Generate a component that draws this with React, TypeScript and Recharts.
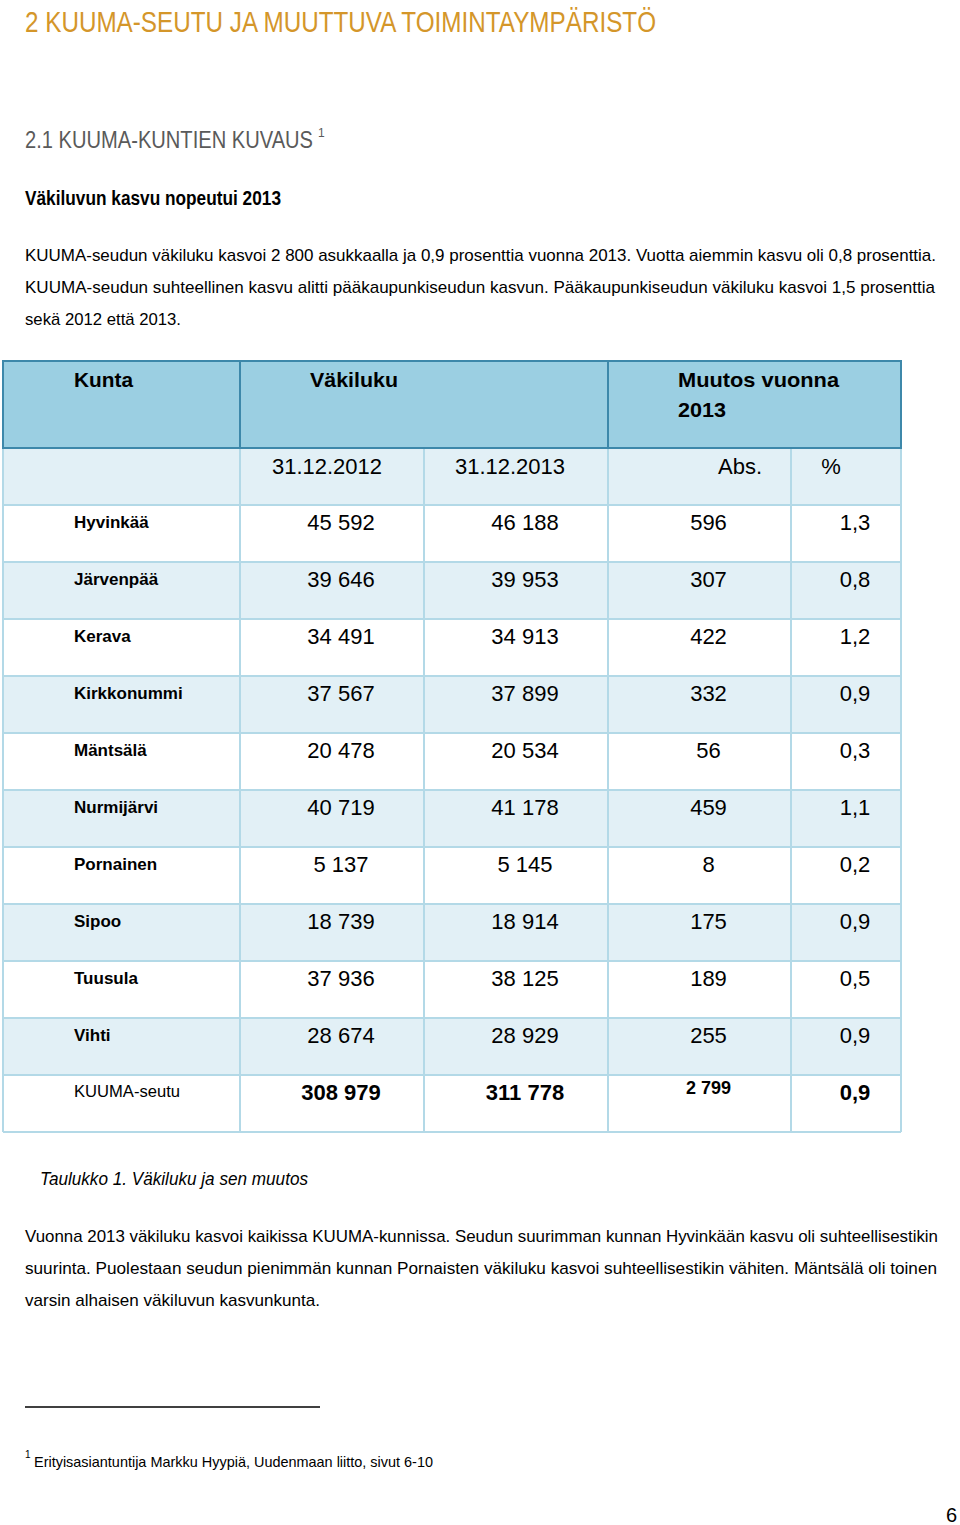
import React from "react";
import { Surface, Layer, Rectangle } from "recharts";

// table data
const kunnat = [
  "Hyvinkää",
  "Järvenpää",
  "Kerava",
  "Kirkkonummi",
  "Mäntsälä",
  "Nurmijärvi",
  "Pornainen",
  "Sipoo",
  "Tuusula",
  "Vihti",
];
const vakiluku2012 = [45592, 39646, 34491, 37567, 20478, 40719, 5137, 18739, 37936, 28674];
const vakiluku2013 = [46188, 39953, 34913, 37899, 20534, 41178, 5145, 18914, 38125, 28929];
const muutosAbs = [596, 307, 422, 332, 56, 459, 8, 175, 189, 255];
const muutosPct = [1.3, 0.8, 1.2, 0.9, 0.3, 1.1, 0.2, 0.9, 0.5, 0.9];
const yhteensa = { nimi: "KUUMA-seutu", v2012: 308979, v2013: 311778, abs: 2799, pct: 0.9 };

const W = 960;
const H = 1525;

const NARROW = "'Liberation Sans Narrow', 'Liberation Sans', Arial, sans-serif";
const ARIAL = "'Liberation Sans', Arial, sans-serif";

const COL_X = [3, 240, 424, 608, 791, 901];
const HEAD_TOP = 361;
const HEAD_BOTTOM = 448;
const SUB_BOTTOM = 505;
const ROW_H = 57;

const HEAD_BG = "#9bcfe2";
const HEAD_BORDER = "#3d88aa";
const ROW_LIGHT = "#e2f0f6";
const GRID = "#b3d9e7";

const fmt = (n: number) => String(n).replace(/\B(?=(\d{3})+(?!\d))/g, " ");
const fmtPct = (n: number) => n.toFixed(1).replace(".", ",");

type TProps = {
  x: number;
  y: number;
  len?: number;
  size: number;
  font?: string;
  weight?: string | number;
  italic?: boolean;
  fill?: string;
  anchor?: "start" | "middle" | "end";
  children: React.ReactNode;
};

function T({ x, y, len, size, font = NARROW, weight = "normal", italic, fill = "#000", anchor = "start", children }: TProps) {
  return (
    <text
      x={x}
      y={y}
      fontFamily={font}
      fontSize={size}
      fontWeight={weight}
      fontStyle={italic ? "italic" : "normal"}
      fill={fill}
      textAnchor={anchor}
      {...(len ? { textLength: len, lengthAdjust: "spacingAndGlyphs" } : {})}
    >
      {children}
    </text>
  );
}

function Taulukko() {
  const rows = kunnat.length + 1;
  const tableBottom = SUB_BOTTOM + rows * ROW_H;
  const center = (i: number) => (COL_X[i] + COL_X[i + 1]) / 2 + 9;

  return (
    <Layer>
      {/* row backgrounds */}
      <Rectangle x={COL_X[0]} y={HEAD_BOTTOM} width={COL_X[5] - COL_X[0]} height={SUB_BOTTOM - HEAD_BOTTOM} fill={ROW_LIGHT} />
      {Array.from({ length: rows }).map((_, i) => (
        <Rectangle
          key={"bg" + i}
          x={COL_X[0]}
          y={SUB_BOTTOM + i * ROW_H}
          width={COL_X[5] - COL_X[0]}
          height={ROW_H}
          fill={i % 2 === 1 ? ROW_LIGHT : "#ffffff"}
        />
      ))}
      {/* light grid */}
      {Array.from({ length: rows + 1 }).map((_, i) => (
        <line
          key={"h" + i}
          x1={COL_X[0]}
          x2={COL_X[5]}
          y1={SUB_BOTTOM + i * ROW_H}
          y2={SUB_BOTTOM + i * ROW_H}
          stroke={GRID}
          strokeWidth={2}
        />
      ))}
      {COL_X.map((x, i) => (
        <line key={"v" + i} x1={x} x2={x} y1={HEAD_BOTTOM} y2={tableBottom} stroke={GRID} strokeWidth={2} />
      ))}
      {/* header */}
      <Rectangle
        x={COL_X[0]}
        y={HEAD_TOP}
        width={COL_X[5] - COL_X[0]}
        height={HEAD_BOTTOM - HEAD_TOP}
        fill={HEAD_BG}
        stroke={HEAD_BORDER}
        strokeWidth={2}
      />
      {[COL_X[1], COL_X[3]].map((x) => (
        <line key={"hv" + x} x1={x} x2={x} y1={HEAD_TOP} y2={HEAD_BOTTOM} stroke={HEAD_BORDER} strokeWidth={2} />
      ))}
      <T x={74} y={387} size={21} font={ARIAL} weight="bold" len={59}>Kunta</T>
      <T x={310} y={387} size={21} font={ARIAL} weight="bold" len={88}>Väkiluku</T>
      <T x={678} y={387} size={21} font={ARIAL} weight="bold" len={161}>Muutos vuonna</T>
      <T x={678} y={417} size={21} font={ARIAL} weight="bold" len={48}>2013</T>

      {/* sub header */}
      <T x={327} y={474} size={22} font={ARIAL} anchor="middle">31.12.2012</T>
      <T x={510} y={474} size={22} font={ARIAL} anchor="middle">31.12.2013</T>
      <T x={740} y={474} size={22} font={ARIAL} anchor="middle">Abs.</T>
      <T x={831} y={474} size={22} font={ARIAL} anchor="middle">%</T>

      {/* data rows */}
      {kunnat.map((k, i) => {
        const top = SUB_BOTTOM + i * ROW_H;
        return (
          <g key={k}>
            <T x={74} y={top + 23} size={17} font={ARIAL} weight="bold">{k}</T>
            <T x={center(1)} y={top + 25} size={22} font={ARIAL} anchor="middle">{fmt(vakiluku2012[i])}</T>
            <T x={center(2)} y={top + 25} size={22} font={ARIAL} anchor="middle">{fmt(vakiluku2013[i])}</T>
            <T x={center(3)} y={top + 25} size={22} font={ARIAL} anchor="middle">{fmt(muutosAbs[i])}</T>
            <T x={center(4)} y={top + 25} size={22} font={ARIAL} anchor="middle">{fmtPct(muutosPct[i])}</T>
          </g>
        );
      })}
      {(() => {
        const top = SUB_BOTTOM + kunnat.length * ROW_H;
        return (
          <g>
            <T x={74} y={top + 22} size={17} font={ARIAL} len={106}>{yhteensa.nimi}</T>
            <T x={center(1)} y={top + 25} size={22} font={ARIAL} weight="bold" anchor="middle">{fmt(yhteensa.v2012)}</T>
            <T x={center(2)} y={top + 25} size={22} font={ARIAL} weight="bold" anchor="middle">{fmt(yhteensa.v2013)}</T>
            <T x={center(3)} y={top + 19} size={18} font={ARIAL} weight="bold" anchor="middle">{fmt(yhteensa.abs)}</T>
            <T x={center(4)} y={top + 25} size={22} font={ARIAL} weight="bold" anchor="middle">{fmtPct(yhteensa.pct)}</T>
          </g>
        );
      })()}
    </Layer>
  );
}

export default function App() {
  return (
    <div style={{ position: "absolute", left: 0, top: 0, width: W, height: H, background: "#fff" }}>
      <Surface width={W} height={H} viewBox={{ x: 0, y: 0, width: W, height: H }}>
        <T x={25} y={32} size={30} fill="#d4962a" len={631}>2 KUUMA-SEUTU JA MUUTTUVA TOIMINTAYMPÄRISTÖ</T>

        <text x={25} y={148} fontFamily={NARROW} fontSize={24} fill="#5a5a5a">
          <tspan textLength={288} lengthAdjust="spacingAndGlyphs">2.1 KUUMA-KUNTIEN KUVAUS</tspan>
          <tspan dx={5} dy={-11} fontSize={12}>1</tspan>
        </text>

        <T x={25} y={205} size={20} weight="bold" len={256}>Väkiluvun kasvu nopeutui 2013</T>

        <T x={25} y={261} size={17} len={911}>
          KUUMA-seudun väkiluku kasvoi 2 800 asukkaalla ja 0,9 prosenttia vuonna 2013. Vuotta aiemmin kasvu oli 0,8 prosenttia.
        </T>
        <T x={25} y={293} size={17} len={910}>
          KUUMA-seudun suhteellinen kasvu alitti pääkaupunkiseudun kasvun. Pääkaupunkiseudun väkiluku kasvoi 1,5 prosenttia
        </T>
        <T x={25} y={325} size={17} len={156}>sekä 2012 että 2013.</T>

        <Taulukko />

        <T x={40} y={1185} size={18} italic len={268}>Taulukko 1. Väkiluku ja sen muutos</T>

        <T x={25} y={1242} size={17} len={913}>
          Vuonna 2013 väkiluku kasvoi kaikissa KUUMA-kunnissa. Seudun suurimman kunnan Hyvinkään kasvu oli suhteellisestikin
        </T>
        <T x={25} y={1274} size={17} len={912}>
          suurinta. Puolestaan seudun pienimmän kunnan Pornaisten väkiluku kasvoi suhteellisestikin vähiten. Mäntsälä oli toinen
        </T>
        <T x={25} y={1306} size={17} len={295}>varsin alhaisen väkiluvun kasvunkunta.</T>

        <line x1={25} x2={320} y1={1407} y2={1407} stroke="#000" strokeWidth={1.5} />
        <T x={25} y={1458} size={10}>1</T>
        <T x={34} y={1467} size={15} len={399}>Erityisasiantuntija Markku Hyypiä, Uudenmaan liitto, sivut 6-10</T>

        <T x={957} y={1522} size={20} anchor="end">6</T>
      </Surface>
    </div>
  );
}
